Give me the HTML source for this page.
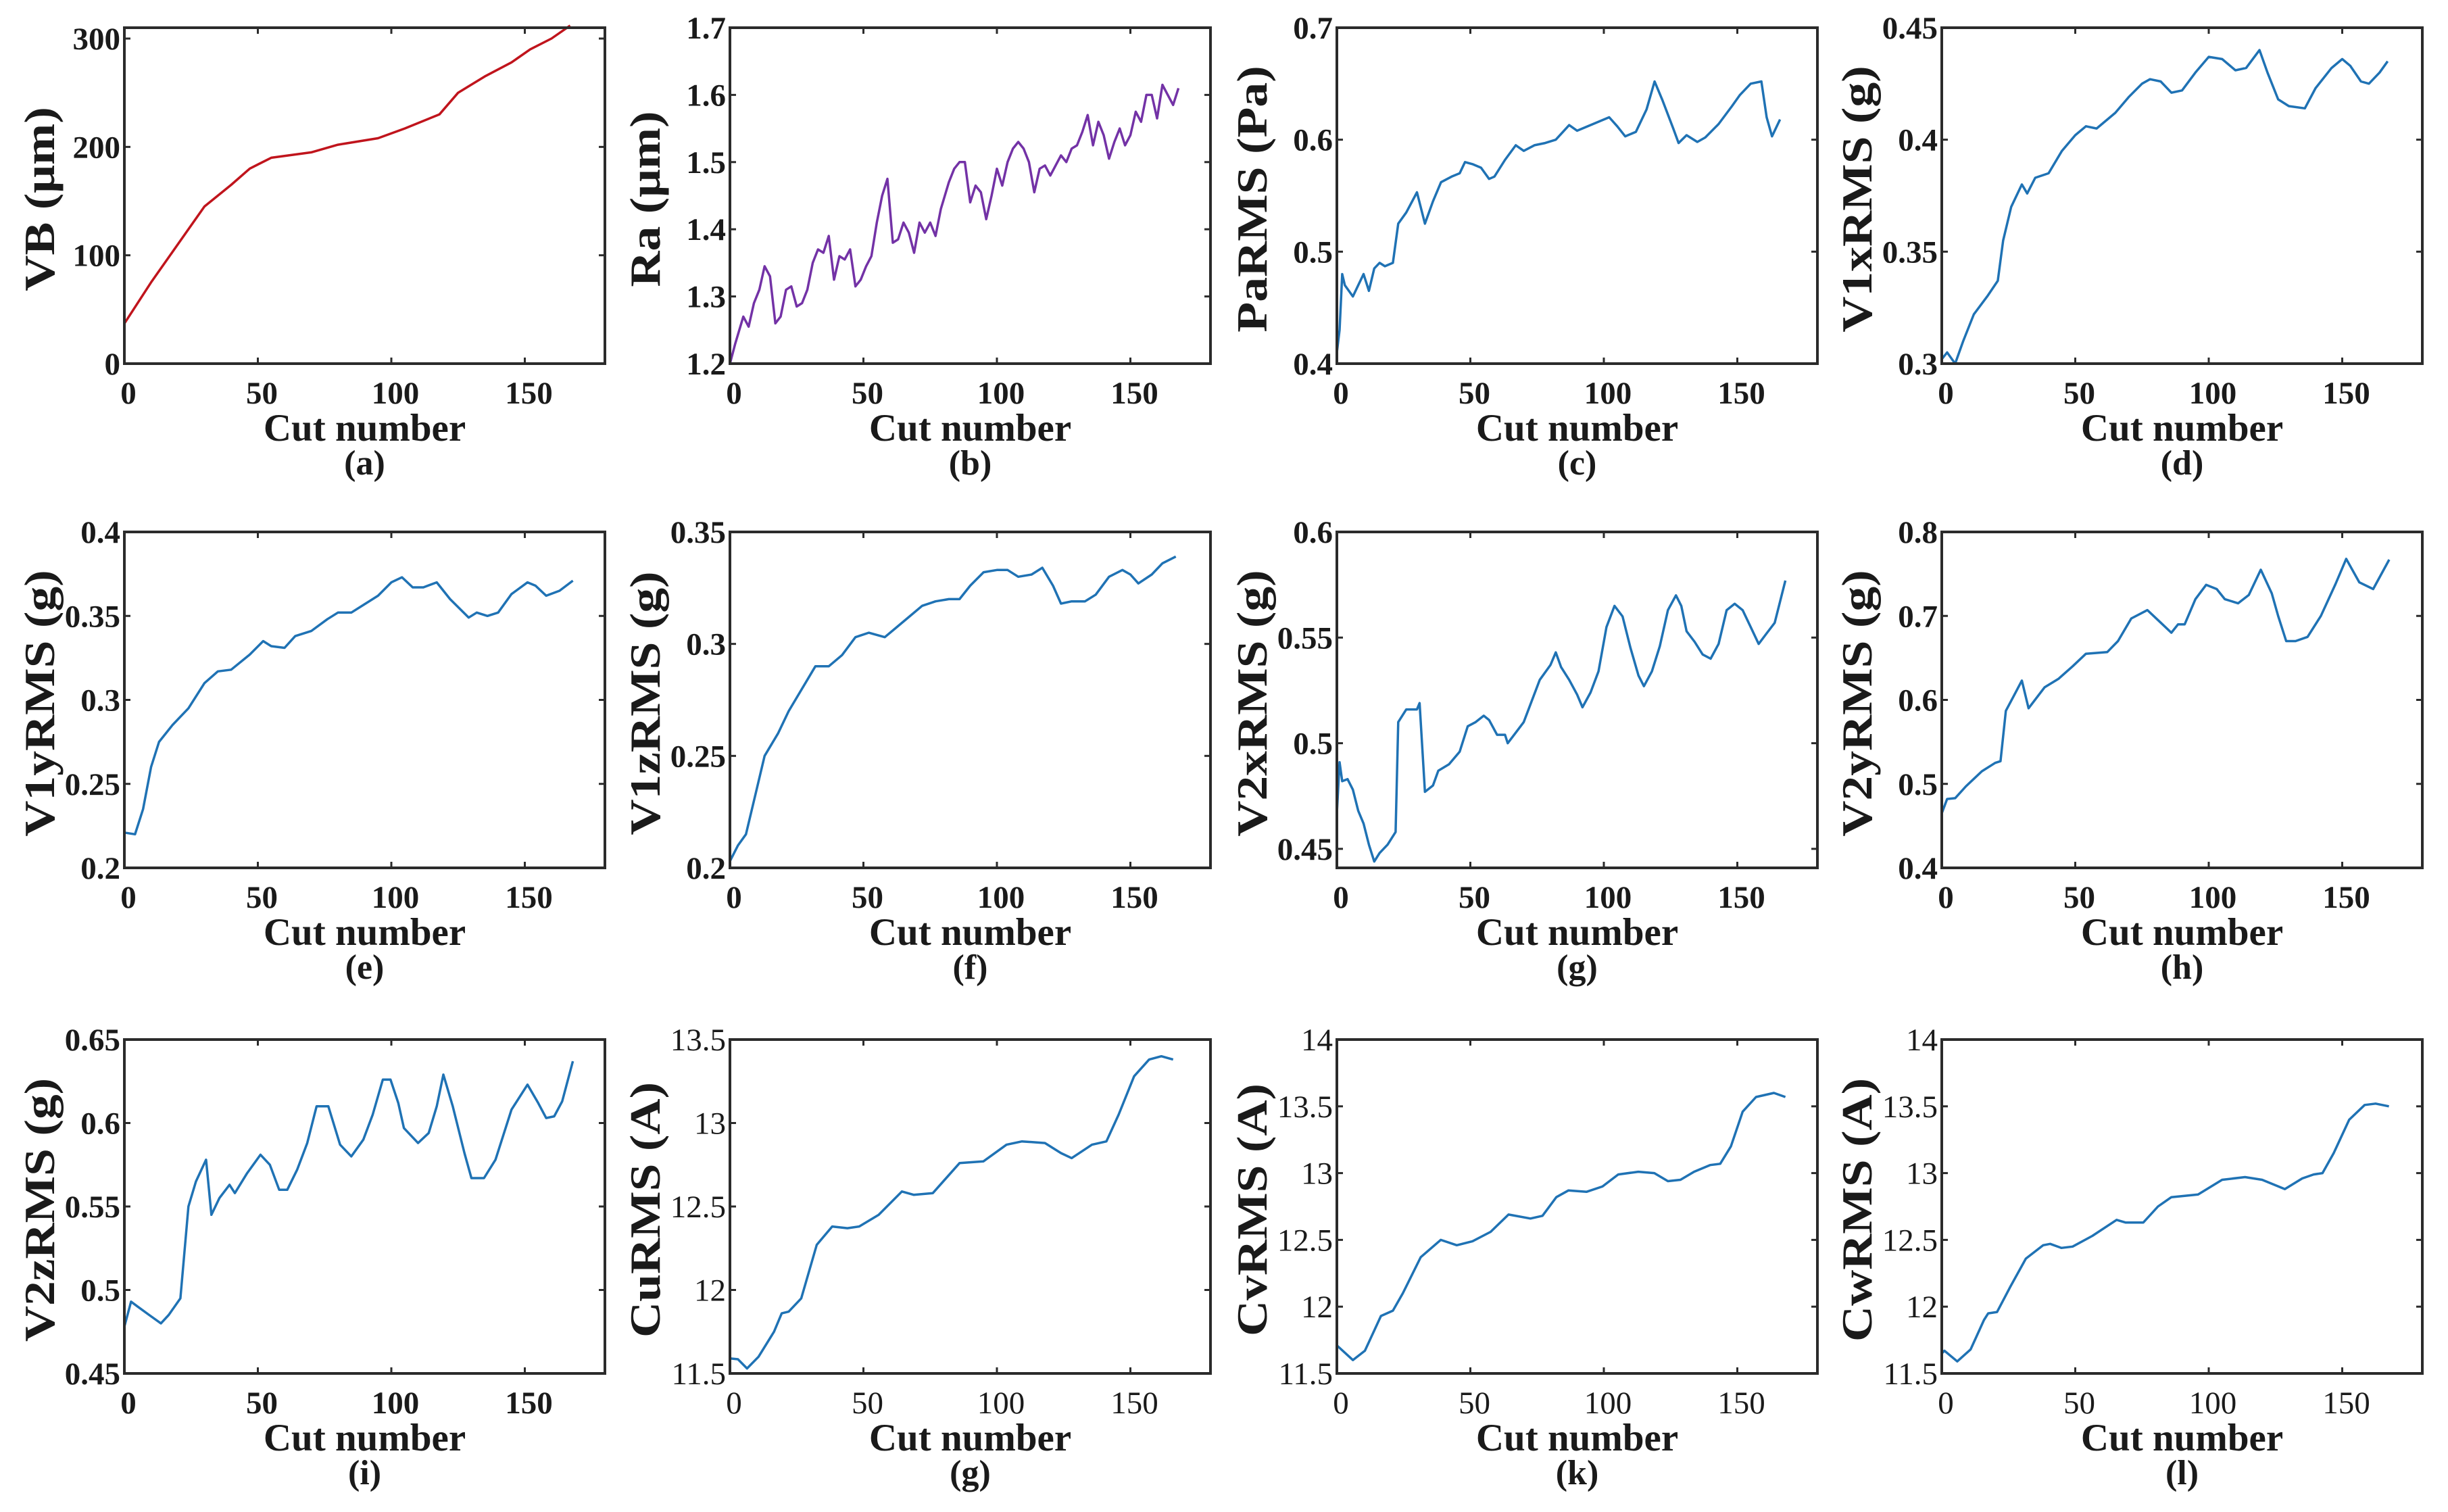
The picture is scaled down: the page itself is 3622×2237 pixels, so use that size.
<!DOCTYPE html>
<html><head><meta charset="utf-8"><style>
html,body{margin:0;padding:0;background:#fff;}
svg{display:block;}
text{font-family:"Liberation Serif",serif;fill:#1a1a1a;}
</style></head><body>
<svg id="fig" width="3622" height="2237" viewBox="0 0 3622 2237" xmlns="http://www.w3.org/2000/svg"></svg>
<script>
// ---- data ----
const aX=[0,10,20,30,40,47,55,70,80,95,105,118,125,135,145,152,160,167];
const aY=[37,75,110,145,165,180,190,195,202,208,217,230,250,265,278,290,300,312];
const bX=[0,2,5,7,9,11,13,15,17,19,21,23,25,27,29,31,33,35,37,39,41,43,45,47,49,51,53,55,57,59,61,63,65,67,69,71,73,75,77,79,82,84,86,88,90,92,94,96,98,100,102,104,106,108,110,112,114,116,118,120,122,124,126,128,130,132,134,136,138,140,142,144,146,148,150,152,154,156,158,160,162,164,166,168];
const bY=[1.2,1.23,1.27,1.255,1.29,1.31,1.345,1.33,1.26,1.27,1.31,1.315,1.285,1.29,1.31,1.35,1.37,1.365,1.39,1.325,1.36,1.355,1.37,1.315,1.325,1.345,1.36,1.41,1.45,1.475,1.38,1.385,1.41,1.395,1.365,1.41,1.395,1.41,1.39,1.43,1.47,1.49,1.5,1.5,1.44,1.465,1.455,1.415,1.45,1.49,1.465,1.5,1.52,1.53,1.52,1.5,1.455,1.49,1.495,1.48,1.495,1.51,1.5,1.52,1.525,1.545,1.57,1.525,1.56,1.54,1.505,1.53,1.55,1.525,1.54,1.575,1.56,1.6,1.6,1.565,1.615,1.6,1.585,1.61];
const cX=[0,1,2,3,6,8,10,12,14,16,18,21,23,26,30,33,36,39,43,46,48,51,54,57,59,63,67,70,74,78,82,87,90,94,102,105,108,112,116,119,122,126,128,131,135,138,143,148,151,155,159,161,163,166];
const cY=[0.41,0.43,0.48,0.47,0.46,0.47,0.48,0.465,0.485,0.49,0.487,0.49,0.525,0.535,0.553,0.525,0.545,0.562,0.567,0.57,0.58,0.578,0.575,0.565,0.567,0.582,0.595,0.59,0.595,0.597,0.6,0.613,0.608,0.612,0.62,0.612,0.603,0.607,0.627,0.652,0.635,0.61,0.597,0.604,0.598,0.602,0.614,0.63,0.64,0.65,0.652,0.62,0.603,0.618];
const dX=[0,2,5,8,12,17,21,23,26,30,32,35,40,45,50,54,58,65,70,75,78,82,86,90,95,100,105,110,114,119,122,126,130,136,140,146,150,153,157,160,164,167];
const dY=[0.302,0.305,0.3,0.31,0.322,0.33,0.337,0.355,0.37,0.38,0.376,0.383,0.385,0.395,0.402,0.406,0.405,0.412,0.419,0.425,0.427,0.426,0.421,0.422,0.43,0.437,0.436,0.431,0.432,0.44,0.43,0.418,0.415,0.414,0.423,0.432,0.436,0.433,0.426,0.425,0.43,0.435];
const eX=[0,4,7,10,13,18,24,30,35,40,47,52,55,60,64,70,76,80,85,90,95,100,104,108,112,117,122,129,132,136,140,145,151,154,158,163,168];
const eY=[0.221,0.22,0.235,0.26,0.275,0.285,0.295,0.31,0.317,0.318,0.327,0.335,0.332,0.331,0.338,0.341,0.348,0.352,0.352,0.357,0.362,0.37,0.373,0.367,0.367,0.37,0.36,0.349,0.352,0.35,0.352,0.363,0.37,0.368,0.362,0.365,0.371];
const fX=[0,3,6,10,13,18,22,27,32,37,42,47,52,58,62,67,72,77,82,86,90,95,100,104,108,113,117,121,124,128,133,137,142,147,150,153,158,162,167];
const fY=[0.203,0.21,0.215,0.235,0.25,0.26,0.27,0.28,0.29,0.29,0.295,0.303,0.305,0.303,0.307,0.312,0.317,0.319,0.32,0.32,0.326,0.332,0.333,0.333,0.33,0.331,0.334,0.326,0.318,0.319,0.319,0.322,0.33,0.333,0.331,0.327,0.331,0.336,0.339];
const gX=[0,1,2,4,6,8,10,12,14,16,19,22,23,26,30,31,33,36,38,42,46,49,52,55,57,60,63,64,67,70,73,76,80,82,84,87,90,92,95,98,101,104,107,110,113,115,118,121,124,127,129,131,134,137,140,143,146,149,152,155,158,161,164,166,168];
const gY=[0.467,0.491,0.482,0.483,0.478,0.468,0.462,0.452,0.444,0.448,0.452,0.458,0.51,0.516,0.516,0.519,0.477,0.48,0.487,0.49,0.496,0.508,0.51,0.513,0.511,0.504,0.504,0.5,0.505,0.51,0.52,0.53,0.537,0.543,0.536,0.53,0.523,0.517,0.524,0.534,0.555,0.565,0.56,0.545,0.532,0.527,0.534,0.546,0.563,0.57,0.565,0.553,0.548,0.542,0.54,0.547,0.563,0.566,0.563,0.555,0.547,0.552,0.557,0.567,0.577];
const hX=[0,2,5,9,15,20,22,24,27,30,32.5,38.5,43.7,49,54,62,66,71,77,82,86,88.5,91,95,99,103,106,111,115,119.5,123.6,126,129,132.5,137,142,147.5,151.5,156.4,161.6,167.6];
const hY=[0.465,0.482,0.483,0.497,0.515,0.525,0.527,0.587,0.605,0.623,0.59,0.615,0.625,0.64,0.655,0.657,0.67,0.697,0.707,0.692,0.68,0.69,0.69,0.72,0.737,0.732,0.72,0.715,0.725,0.755,0.727,0.7,0.67,0.67,0.675,0.7,0.738,0.768,0.74,0.732,0.767];
const iX=[0,2.5,5,9.3,13.7,16.6,21,24,26.8,30.6,32.6,35.6,39.4,41.4,46,51,54.5,58,61,64.7,68.5,72,76.4,80.8,85,89.5,93,96.8,99.7,102.6,104.7,110,114,117,119.5,123,127.4,130,134.7,139,145,151,155,158,161,164,168];
const iY=[0.478,0.493,0.49,0.485,0.48,0.485,0.495,0.55,0.565,0.578,0.545,0.555,0.563,0.558,0.57,0.581,0.575,0.56,0.56,0.572,0.588,0.61,0.61,0.587,0.58,0.59,0.605,0.626,0.626,0.612,0.597,0.588,0.594,0.61,0.629,0.61,0.582,0.567,0.567,0.578,0.608,0.623,0.612,0.603,0.604,0.613,0.637];
const jX=[0,3,6.4,10.7,16.5,19.4,22,26.7,32.5,38.3,44,48.4,55.7,64.4,68.8,76,86,94.9,103.6,109.4,118,124,128,135.6,141,145.6,151.4,157,161.6,166];
const jY=[11.59,11.585,11.53,11.6,11.75,11.86,11.87,11.95,12.27,12.38,12.37,12.38,12.45,12.59,12.57,12.58,12.76,12.77,12.87,12.89,12.88,12.82,12.79,12.87,12.89,13.05,13.28,13.38,13.4,13.38];
const kX=[0,6,10.5,16.5,21,24.7,31.4,38.9,44.9,50.8,57.6,64.3,72.5,77,82.2,86.7,93.5,99.5,105.4,112.9,118.9,124,128.7,133.8,139.8,143.6,147.6,152,157,163.7,168];
const kY=[11.71,11.6,11.67,11.93,11.97,12.1,12.37,12.5,12.46,12.49,12.56,12.69,12.66,12.68,12.82,12.87,12.86,12.9,12.99,13.01,13.0,12.94,12.95,13.01,13.06,13.07,13.2,13.46,13.57,13.6,13.57];
const lX=[0,1,5.8,10.8,15.8,17.4,20.7,25.7,31.5,38,40.6,44.8,49,56.4,65.5,68.8,75.5,81,86,96,105,113.6,120,128.5,135,139.3,142.6,146.8,152.6,158.4,162.5,167.5];
const lY=[11.65,11.67,11.59,11.68,11.9,11.95,11.96,12.15,12.36,12.46,12.47,12.44,12.45,12.53,12.65,12.63,12.63,12.75,12.82,12.84,12.95,12.97,12.95,12.88,12.96,12.99,13.0,13.15,13.4,13.51,13.52,13.5];
const xTicks=[0,50,100,150];
const aTicks=["0","100","200","300"], bTicks=["1.2","1.3","1.4","1.5","1.6","1.7"], cTicks=["0.4","0.5","0.6","0.7"], dTicks=["0.3","0.35","0.4","0.45"];
const eTicks=["0.2","0.25","0.3","0.35","0.4"], fTicks=["0.2","0.25","0.3","0.35"], gTicks=["0.45","0.5","0.55","0.6"], hTicks=["0.4","0.5","0.6","0.7","0.8"];
const iTicks=["0.45","0.5","0.55","0.6","0.65"], jTicks=["11.5","12","12.5","13","13.5"], kTicks=["11.5","12","12.5","13","13.5","14"], lTicks=["11.5","12","12.5","13","13.5","14"];

const NS="http://www.w3.org/2000/svg";
const svg=document.getElementById('fig');
const colL=[184,1080,1978,2873], colW=711;
const rowT=[41,787,1538], rowB=[538,1284,2032];
const BLUE="#1f72b4";
const panels=[
 {id:'a',x:aX,y:aY,t:aTicks,ymin:0,ymax:310,lab:'VB (μm)',col:'#c0141c',tb:true},
 {id:'b',x:bX,y:bY,t:bTicks,ymin:1.2,ymax:1.7,lab:'Ra (μm)',col:'#7332a6',tb:true},
 {id:'c',x:cX,y:cY,t:cTicks,ymin:0.4,ymax:0.7,lab:'PaRMS (Pa)',col:BLUE,tb:true},
 {id:'d',x:dX,y:dY,t:dTicks,ymin:0.3,ymax:0.45,lab:'V1xRMS (g)',col:BLUE,tb:true},
 {id:'e',x:eX,y:eY,t:eTicks,ymin:0.2,ymax:0.4,lab:'V1yRMS (g)',col:BLUE,tb:true},
 {id:'f',x:fX,y:fY,t:fTicks,ymin:0.2,ymax:0.35,lab:'V1zRMS (g)',col:BLUE,tb:true},
 {id:'g',x:gX,y:gY,t:gTicks,ymin:0.441,ymax:0.6,lab:'V2xRMS (g)',col:BLUE,tb:true},
 {id:'h',x:hX,y:hY,t:hTicks,ymin:0.4,ymax:0.8,lab:'V2yRMS (g)',col:BLUE,tb:true},
 {id:'i',x:iX,y:iY,t:iTicks,ymin:0.45,ymax:0.65,lab:'V2zRMS (g)',col:BLUE,tb:true},
 {id:'g',x:jX,y:jY,t:jTicks,ymin:11.5,ymax:13.5,lab:'CuRMS (A)',col:BLUE,tb:false},
 {id:'k',x:kX,y:kY,t:kTicks,ymin:11.5,ymax:14,lab:'CvRMS (A)',col:BLUE,tb:false},
 {id:'l',x:lX,y:lY,t:lTicks,ymin:11.5,ymax:14,lab:'CwRMS (A)',col:BLUE,tb:false}
];
function mk(tag,attrs,parent){const e=document.createElementNS(NS,tag);for(const k in attrs)e.setAttribute(k,attrs[k]);parent.appendChild(e);return e;}
panels.forEach((p,idx)=>{
  const r=Math.floor(idx/4), c=idx%4;
  const L=colL[c], R=L+colW, T=rowT[r], B=rowB[r];
  const xs=v=>L+(v-0)/(180-0)*(R-L);
  const ys=v=>B-(v-p.ymin)/(p.ymax-p.ymin)*(B-T);
  const g=mk('g',{},svg);
  
  
  let d='';
  p.x.forEach((xv,i)=>{d+=(i?'L':'M')+xs(xv).toFixed(1)+','+ys(p.y[i]).toFixed(1);});
  const line=mk('path',{d:d,fill:'none',stroke:p.col,'stroke-width':3.5,'stroke-linejoin':'round'},g);
  
  
  const box=mk('rect',{x:L,y:T,width:R-L,height:B-T,fill:'none',stroke:'#2b2b2b','stroke-width':4},g);
  
  
  xTicks.forEach(tv=>{
    const X=xs(tv);
    mk('line',{x1:X,y1:B,x2:X,y2:B-9,stroke:'#2b2b2b','stroke-width':3},g);
    mk('line',{x1:X,y1:T,x2:X,y2:T+9,stroke:'#2b2b2b','stroke-width':3},g);
    const t=mk('text',{x:X+6,y:B+59,'text-anchor':'middle','font-size':47,'font-weight':p.tb?'bold':'normal'},g);
    t.textContent=tv;
    
    
  });
  p.t.forEach(lbl=>{
    const v=parseFloat(lbl); const Y=ys(v);
    mk('line',{x1:L,y1:Y,x2:L+9,y2:Y,stroke:'#2b2b2b','stroke-width':3},g);
    mk('line',{x1:R,y1:Y,x2:R-9,y2:Y,stroke:'#2b2b2b','stroke-width':3},g);
    const t=mk('text',{x:L-6,y:Y+16,'text-anchor':'end','font-size':47,'font-weight':p.tb?'bold':'normal'},g);
    t.textContent=lbl;
    
    
  });
  const xt=mk('text',{x:(L+R)/2,y:B+114,'text-anchor':'middle','font-size':57,'font-weight':'bold'},g);
  xt.textContent='Cut number';
  
  
  const cap=mk('text',{x:(L+R)/2,y:B+164,'text-anchor':'middle','font-size':52,'font-weight':'bold'},g);
  cap.textContent='('+p.id+')';
  
  
  const yt=mk('text',{transform:'translate('+(L-104)+','+((T+B)/2+5)+') rotate(-90) scale(1.15,1)','text-anchor':'middle','font-size':64,'font-weight':'bold'},g);
  yt.textContent=p.lab;
  
  
});
</script>
</body></html>
